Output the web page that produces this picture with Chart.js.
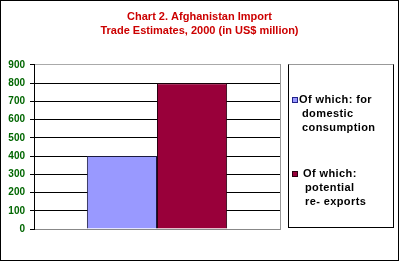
<!DOCTYPE html>
<html>
<head>
<meta charset="utf-8">
<script src="https://cdn.jsdelivr.net/npm/chart.js@4"></script>
<style>
  html, body { margin: 0; padding: 0; background: #fff; }
  #wrap { position: relative; width: 399px; height: 261px; overflow: hidden; }
  #frame { position: absolute; left: 0; top: 0; width: 399px; height: 261px; box-sizing: border-box; border: 1px solid #000; pointer-events: none; }
  canvas { position: absolute; left: 0; top: 0; }
  #legend { position: absolute; left: 288px; top: 64px; width: 106px; height: 164px; box-sizing: border-box;
            border: 1px solid #000; border-top-color: #999; font: bold 11px "Liberation Sans", Arial, sans-serif; color: #000; letter-spacing: 0.4px; }
  .item { position: absolute; line-height: 13px; white-space: nowrap; }
  .sw { position: absolute; width: 6px; height: 6px; box-sizing: border-box; border: 1px solid #000; }
</style>
</head>
<body>
<div id="wrap">
  <canvas id="c" width="399" height="261"></canvas>
  <div id="legend"></div>
  <div id="frame"></div>
</div>
<script>
const categories = [''];
const seriesNames = [['Of which: for', 'domestic', 'consumption'], ['Of which:', 'potential', 're- exports']];
const domestic = [400];
const reexports = [800];
const yTicks = [0, 100, 200, 300, 400, 500, 600, 700, 800, 900];
const titleLines = ['Chart 2. Afghanistan Import', 'Trade Estimates, 2000 (in US$ million)'];
const colors = ['#9999ff', '#99003a'];

const FONT = '"Liberation Sans", Arial, sans-serif';

new Chart(document.getElementById('c'), {
  type: 'bar',
  data: {
    labels: categories,
    datasets: [
      { label: seriesNames[0].join(' '), data: domestic, backgroundColor: colors[0], borderColor: '#1a1a40', borderWidth: 1 },
      { label: seriesNames[1].join(' '), data: reexports, backgroundColor: colors[1], borderColor: '#2a0010', borderWidth: 1 }
    ]
  },
  options: {
    responsive: false,
    animation: false,
    devicePixelRatio: 1,
    layout: { padding: { left: 0, right: 0, top: 0, bottom: 24 } },
    datasets: { bar: { categoryPercentage: 0.57, barPercentage: 1 } },
    plugins: {
      legend: { display: false },
      tooltip: { enabled: false },
      title: {
        display: true,
        text: titleLines,
        color: '#cc0000',
        font: { family: FONT, size: 11, weight: 'bold', lineHeight: 1.36 },
        padding: { top: 9, bottom: 26 }
      }
    },
    scales: {
      x: {
        display: true,
        ticks: { display: false },
        grid: { display: false },
        border: { color: '#888', width: 1 }
      },
      y: {
        min: 0, max: 900,
        afterBuildTicks: (s) => { s.ticks = yTicks.map(v => ({ value: v })); },
        afterFit: (s) => { s.width = 34; },
        ticks: { color: '#006600', font: { family: FONT, size: 10, weight: 'bold' }, padding: 5 },
        grid: {
          color: (ctx) => (ctx.tick && ctx.tick.value === 900) ? '#aaa' : (ctx.tick && ctx.tick.value === 0 ? '#888' : '#000'),
          tickLength: 4,
          tickColor: '#000'
        },
        border: { color: '#000', width: 1 }
      },
      y2: {
        position: 'right',
        display: true,
        min: 0, max: 900,
        afterFit: (s) => { s.width = 119; },
        ticks: { display: false },
        grid: { display: false, drawTicks: false },
        border: { color: '#999', width: 1 }
      }
    }
  }
});

// HTML legend built from the series names/colors
const legend = document.getElementById('legend');
const layout = [
  { swX: 3, swY: 32, tx: 10, ty: 28, indent: 3 },
  { swX: 3, swY: 106, tx: 14, ty: 102, indent: 2 }
];
seriesNames.forEach((lines, i) => {
  const L = layout[i];
  const sw = document.createElement('div');
  sw.className = 'sw';
  sw.style.left = L.swX + 'px';
  sw.style.top = L.swY + 'px';
  sw.style.background = colors[i];
  sw.style.borderColor = i === 0 ? '#22228a' : '#2a0010';
  legend.appendChild(sw);
  lines.forEach((t, j) => {
    const d = document.createElement('div');
    d.className = 'item';
    d.textContent = t;
    d.style.left = (L.tx + (j > 0 ? L.indent : 0)) + 'px';
    d.style.top = (L.ty + j * 14) + 'px';
    legend.appendChild(d);
  });
});
</script>
</body>
</html>
